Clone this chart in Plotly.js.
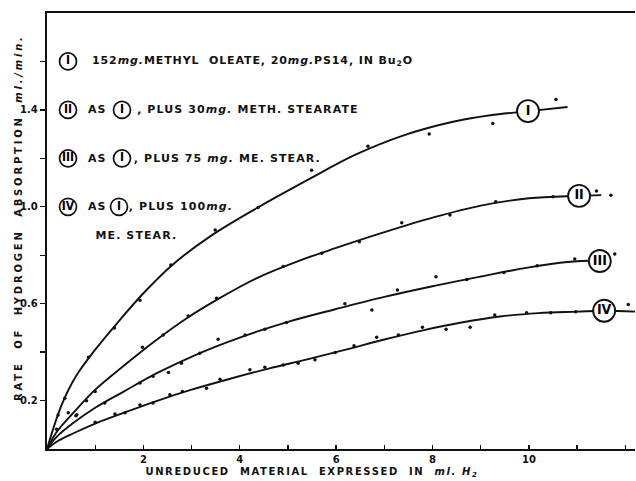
<!DOCTYPE html>
<html><head><meta charset="utf-8">
<script src="https://cdn.plot.ly/plotly-3.0.1.min.js"></script>
<style>
body{margin:0;background:#fff}
#c{width:636px;height:481px}
.annotation .annotation-text{letter-spacing:1.1px}
.annotation[data-index="0"] .annotation-text{letter-spacing:1.6px}
.annotation[data-index="1"] .annotation-text{letter-spacing:2.8px}
.annotation[data-index="2"] .annotation-text{letter-spacing:0.9px}
</style>
</head><body><div id="c"></div>
<script>
// ---- fitted curves (hand-drawn lines) ----
const curveIx = [0, 0.3, 0.6, 1.0, 1.5, 2.0, 2.6, 3.4, 4.4, 5.4, 6.4, 7.4, 8.4, 9.2, 10.0, 10.8];
const curveIy = [0, 0.18, 0.30, 0.41, 0.53, 0.643, 0.76, 0.88, 1.00, 1.11, 1.215, 1.295, 1.35, 1.378, 1.395, 1.412];
const curveIIx = [0, 0.2, 0.55, 1.0, 1.6, 2.2, 2.9, 3.6, 4.4, 5.2, 6.0, 7.0, 8.0, 9.0, 10.0, 11.0, 11.5];
const curveIIy = [0, 0.07, 0.15, 0.245, 0.345, 0.44, 0.54, 0.625, 0.71, 0.775, 0.83, 0.895, 0.955, 1.005, 1.035, 1.045, 1.048];
const curveIIIx = [0, 0.2, 0.55, 1.0, 1.6, 2.3, 3.1, 4.0, 5.0, 6.0, 7.0, 8.0, 9.0, 10.0, 10.8, 11.47];
const curveIIIy = [0, 0.05, 0.108, 0.17, 0.238, 0.315, 0.39, 0.46, 0.525, 0.578, 0.628, 0.672, 0.712, 0.75, 0.772, 0.778];
const curveIVx = [0, 0.2, 0.55, 1.0, 1.6, 2.3, 3.0, 3.8, 4.6, 5.4, 6.2, 7.0, 7.8, 8.6, 9.4, 10.2, 11.0, 11.56, 12.2];
const curveIVy = [0, 0.03, 0.065, 0.105, 0.15, 0.2, 0.245, 0.29, 0.332, 0.37, 0.41, 0.452, 0.49, 0.522, 0.547, 0.561, 0.567, 0.571, 0.567];

// ---- measured points ----
const ptsIx = [0.23, 0.37, 0.86, 1.4, 1.93, 2.57, 3.49, 4.38, 5.49, 6.66, 7.93, 9.25, 10.56];
const ptsIy = [0.14, 0.21, 0.379, 0.5, 0.614, 0.76, 0.904, 0.997, 1.151, 1.25, 1.30, 1.344, 1.443];
const ptsIIx = [0.2, 0.44, 0.62, 1.0, 1.98, 2.41, 2.93, 3.52, 4.9, 5.7, 6.48, 7.36, 8.36, 9.31, 10.5, 11.4, 11.7];
const ptsIIy = [0.082, 0.15, 0.141, 0.237, 0.42, 0.471, 0.549, 0.622, 0.753, 0.808, 0.856, 0.934, 0.966, 1.021, 1.041, 1.065, 1.048];
const ptsIIIx = [0.6, 0.82, 1.2, 1.93, 2.2, 2.52, 2.79, 3.17, 3.55, 4.11, 4.52, 4.97, 6.18, 6.74, 7.27, 8.07, 8.71, 9.48, 10.17, 10.95, 11.78];
const ptsIIIy = [0.137, 0.199, 0.19, 0.272, 0.30, 0.316, 0.354, 0.395, 0.453, 0.471, 0.494, 0.522, 0.60, 0.574, 0.656, 0.711, 0.70, 0.729, 0.757, 0.784, 0.805];
const ptsIVx = [1.0, 1.41, 1.62, 1.93, 2.2, 2.55, 2.81, 3.31, 3.59, 4.21, 4.52, 4.9, 5.21, 5.56, 5.98, 6.37, 6.84, 7.29, 7.79, 8.28, 8.78, 9.29, 9.95, 10.45, 10.97, 12.06];
const ptsIVy = [0.11, 0.145, 0.15, 0.182, 0.19, 0.224, 0.237, 0.251, 0.288, 0.327, 0.338, 0.347, 0.354, 0.368, 0.398, 0.426, 0.461, 0.471, 0.503, 0.494, 0.503, 0.553, 0.563, 0.563, 0.567, 0.597];

// ---- labels ----
const seriesNames = ["I", "II", "III", "IV"];
const curveLabelX = [9.98, 11.04, 11.47, 11.56];
const curveLabelY = [1.395, 1.045, 0.776, 0.571];
const legendY = [1.6, 1.4, 1.2, 1.0];
const xTickVals = [1, 2, 3, 4, 5, 6, 7, 8, 9, 10, 11, 12];
const xTickText = ["", "2", "", "4", "", "6", "", "8", "", "10", "", ""];
const yTickVals = [0.2, 0.4, 0.6, 0.8, 1.0, 1.2, 1.4, 1.6];
const yTickText = ["0.2", "", "0.6", "", "1.0", "", "1.4", ""];
const legendLines = [
  "152<i>mg.</i>METHYL  OLEATE, 20<i>mg.</i>PS14, IN Bu<sub>2</sub>O",
  ", PLUS 30<i>mg.</i> METH. STEARATE",
  ", PLUS 75 <i>mg.</i> ME. STEAR.",
  ", PLUS 100<i>mg.</i>"
];
const legendExtra = "ME. STEAR.";
const xTitle = "UNREDUCED  MATERIAL  EXPRESSED  IN  <i>ml. H<sub>2</sub></i>";
const yTitle = "RATE  OF  HYDROGEN  ABSORPTION  <i>ml./min.</i>";

const F = "DejaVu Sans, Liberation Sans, sans-serif";
const FC = "DejaVu Sans Condensed, DejaVu Sans, sans-serif";
const curves = [[curveIx, curveIy], [curveIIx, curveIIy], [curveIIIx, curveIIIy], [curveIVx, curveIVy]];
const pts = [[ptsIx, ptsIy], [ptsIIx, ptsIIy], [ptsIIIx, ptsIIIy], [ptsIVx, ptsIVy]];

const traces = [];
curves.forEach(c => traces.push({x: c[0], y: c[1], mode: 'lines', line: {color: '#111', width: 1.9, shape: 'spline', smoothing: 1.0}, hoverinfo: 'skip'}));
pts.forEach(p => traces.push({x: p[0], y: p[1], mode: 'markers', marker: {color: '#111', size: 3.5}}));
// circled numerals on curves
traces.push({x: curveLabelX, y: curveLabelY, mode: 'markers+text', text: seriesNames, textposition: 'middle center',
  textfont: {family: FC, size: 14, color: '#000', weight: 'bold'},
  marker: {symbol: 'circle', size: 22, color: '#fff', line: {color: '#111', width: 1.9}}});
// legend numerals
const lx = 0.436, ix = 1.556;
traces.push({x: legendY.map(() => lx), y: legendY, mode: 'markers+text', text: seriesNames, textposition: 'middle center',
  textfont: {family: FC, size: 12, color: '#000', weight: 'bold'},
  marker: {symbol: 'circle', size: 17, color: '#fff', line: {color: '#111', width: 1.7}}});
traces.push({x: [ix, ix, 1.494], y: legendY.slice(1), mode: 'markers+text', text: [seriesNames[0], seriesNames[0], seriesNames[0]], textposition: 'middle center',
  textfont: {family: FC, size: 12, color: '#000', weight: 'bold'},
  marker: {symbol: 'circle', size: 17, color: '#fff', line: {color: '#111', width: 1.7}}});

const lf = {family: F, size: 11, color: '#111', weight: 'bold'};
const annotations = [
  {text: xTitle, xref: 'paper', yref: 'paper', x: 0.4507, y: -0.0528, xanchor: 'center', yanchor: 'middle', showarrow: false, font: {family: F, size: 10, color: '#111', weight: 'bold'}},
  {text: yTitle, xref: 'paper', yref: 'paper', x: -0.0476, y: 0.53, xanchor: 'center', yanchor: 'middle', textangle: -90, showarrow: false, font: {family: F, size: 10, color: '#111', weight: 'bold'}},
  {text: legendLines[0], x: 4.263, y: legendY[0], xanchor: 'center', yanchor: 'middle', showarrow: false, font: lf},
  {text: "AS", x: 1.048, y: legendY[1], xanchor: 'center', yanchor: 'middle', showarrow: false, font: lf},
  {text: legendLines[1], x: 4.16, y: legendY[1], xanchor: 'center', yanchor: 'middle', showarrow: false, font: lf},
  {text: "AS", x: 1.048, y: legendY[2], xanchor: 'center', yanchor: 'middle', showarrow: false, font: lf},
  {text: legendLines[2], x: 3.74, y: legendY[2], xanchor: 'center', yanchor: 'middle', showarrow: false, font: lf},
  {text: "AS", x: 1.048, y: legendY[3], xanchor: 'center', yanchor: 'middle', showarrow: false, font: lf},
  {text: legendLines[3], x: 2.77, y: legendY[3], xanchor: 'center', yanchor: 'middle', showarrow: false, font: lf},
  {text: legendExtra, x: 1.857, y: 0.883, xanchor: 'center', yanchor: 'middle', showarrow: false, font: lf}
];

const layout = {
  width: 636, height: 481,
  margin: {l: 47, r: 1, t: 13, b: 32, pad: 0},
  paper_bgcolor: '#fff', plot_bgcolor: '#fff',
  showlegend: false,
  xaxis: {range: [0, 12.2], tickvals: xTickVals, ticktext: xTickText, ticks: 'inside', ticklen: 4, tickwidth: 1.4, tickcolor: '#111',
    showline: true, linewidth: 2.2, linecolor: '#111', mirror: true, showgrid: false, zeroline: false,
    tickfont: {family: F, size: 10, color: '#111', weight: 'bold'}},
  yaxis: {range: [0, 1.8], tickvals: yTickVals, ticktext: yTickText, ticks: 'outside', ticklen: 5, tickwidth: 1.4, tickcolor: '#111',
    showline: true, linewidth: 2.2, linecolor: '#111', showgrid: false, zeroline: false,
    tickfont: {family: F, size: 10, color: '#111', weight: 'bold'}},
  annotations: annotations
};
Plotly.newPlot('c', traces, layout, {displayModeBar: false, staticPlot: true});
</script>
</body></html>
